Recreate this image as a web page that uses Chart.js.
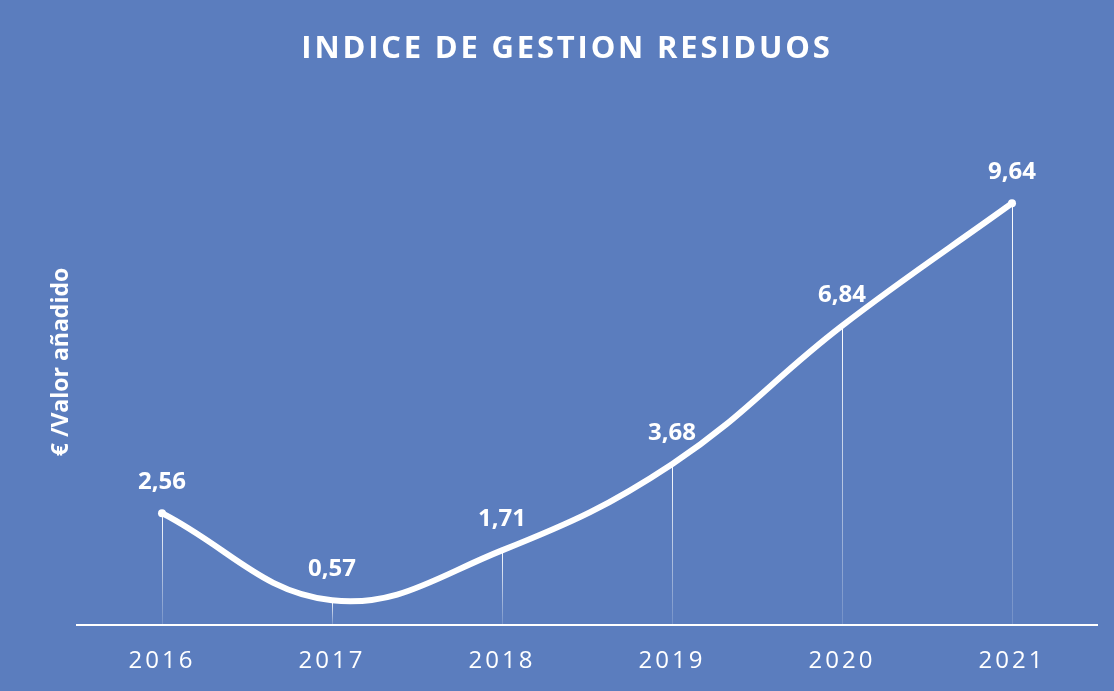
<!DOCTYPE html>
<html>
<head>
<meta charset="utf-8">
<script src="https://cdn.jsdelivr.net/npm/chart.js@4"></script>
<style>
  html, body { margin: 0; padding: 0; background: #5b7dbe; }
  #wrap { width: 1114px; height: 691px; }
</style>
</head>
<body>
<div id="wrap"><canvas id="myChart"></canvas></div>
<script>
// Data
const years = ['2016', '2017', '2018', '2019', '2020', '2021'];
const indexValues = [2.56, 0.57, 1.71, 3.68, 6.84, 9.64];
const chartTitle = 'INDICE DE GESTION RESIDUOS';
const yTitle = '€ /Valor añadido';

const FONT = '"Open Sans", "DejaVu Sans", sans-serif';

// Title, y title, drop lines and value labels
const decorPlugin = {
    id: 'decor',
    beforeDraw(chart) {
        const ctx = chart.ctx;
        ctx.save();
        ctx.fillStyle = '#5b7dbe';
        ctx.fillRect(0, 0, chart.width, chart.height);
        ctx.restore();
        ctx.letterSpacing = '3px'; // spacing for the year labels
    },
    beforeDatasetsDraw(chart) {
        const ctx = chart.ctx;
        const meta = chart.getDatasetMeta(0);
        const bottom = chart.chartArea.bottom;
        ctx.save();
        ctx.lineWidth = 1;
        meta.data.forEach(pt => {
            const g = ctx.createLinearGradient(0, pt.y, 0, bottom);
            g.addColorStop(0, 'rgba(255,255,255,1)');
            g.addColorStop(1, 'rgba(255,255,255,0.15)');
            ctx.strokeStyle = g;
            ctx.beginPath();
            ctx.moveTo(Math.round(pt.x) + 0.5, pt.y);
            ctx.lineTo(Math.round(pt.x) + 0.5, bottom);
            ctx.stroke();
        });
        ctx.restore();
    },
    afterDraw(chart) {
        const ctx = chart.ctx;
        const meta = chart.getDatasetMeta(0);
        ctx.save();
        ctx.fillStyle = '#ffffff';
        ctx.textAlign = 'center';

        // title
        ctx.letterSpacing = '2.8px';
        ctx.font = 'bold 31px ' + FONT;
        ctx.textBaseline = 'middle';
        ctx.fillText(chartTitle, 567, 49);

        // value labels
        ctx.letterSpacing = '0px';
        ctx.font = 'bold 24px ' + FONT;
        ctx.textBaseline = 'alphabetic';
        meta.data.forEach((pt, i) => {
            const txt = indexValues[i].toFixed(2).replace('.', ',');
            ctx.fillText(txt, pt.x, pt.y - 24);
        });

        // y axis title
        ctx.translate(61, 362);
        ctx.rotate(-Math.PI / 2);
        ctx.font = 'bold 23px ' + FONT;
        ctx.textBaseline = 'middle';
        ctx.fillText(yTitle, 0, 0);
        ctx.restore();
    }
};

function renderChart() {
    const ctx = document.getElementById('myChart').getContext('2d');
    new Chart(ctx, {
        type: 'line',
        data: {
            labels: years,
            datasets: [{
                data: indexValues,
                borderColor: '#ffffff',
                borderWidth: 6,
                tension: 0.4,
                pointRadius: [4, 0, 0, 0, 0, 4],
                pointBackgroundColor: '#ffffff',
                pointBorderWidth: 0,
                borderCapStyle: 'round'
            }]
        },
        options: {
            responsive: true,
            maintainAspectRatio: false,
            animation: false,
            layout: { padding: { left: 77, right: 17, top: 100, bottom: -7 } },
            plugins: {
                legend: { display: false },
                tooltip: { enabled: false }
            },
            scales: {
                x: {
                    offset: true,
                    grid: { display: false, drawTicks: false },
                    border: { display: true, color: '#ffffff', width: 2 },
                    ticks: {
                        color: '#ffffff',
                        padding: 22,
                        font: { family: FONT, size: 24 }
                    }
                },
                y: {
                    display: false,
                    min: 0,
                    max: 12
                }
            }
        },
        plugins: [decorPlugin]
    });
}

document.addEventListener('DOMContentLoaded', renderChart);
</script>
</body>
</html>
